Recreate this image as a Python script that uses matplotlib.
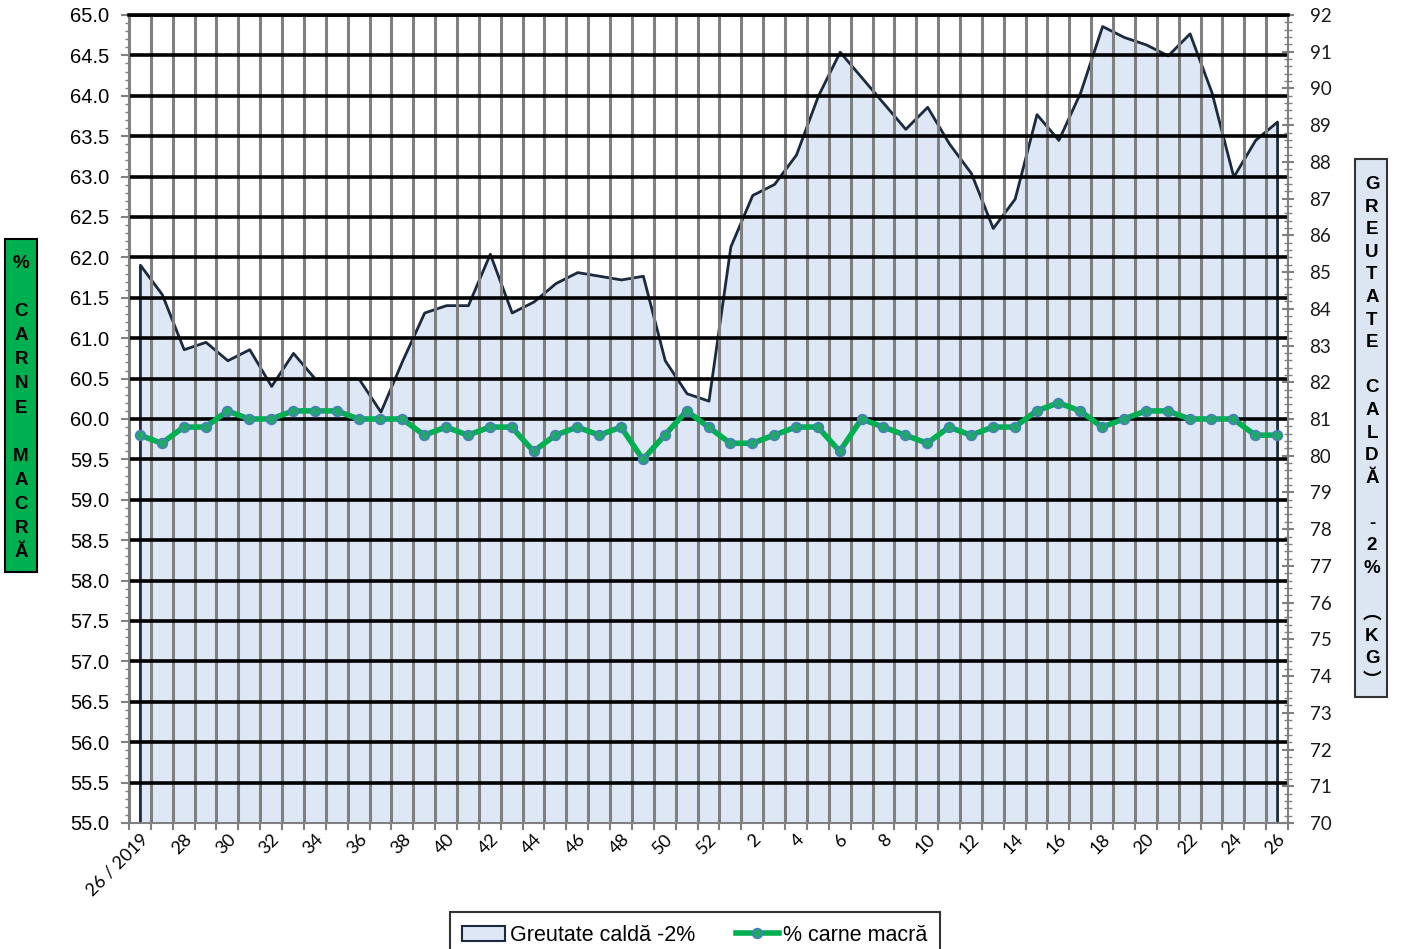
import numpy as np
import matplotlib
matplotlib.use('Agg')
import matplotlib.pyplot as plt
from matplotlib.patches import Rectangle, Patch
from matplotlib.lines import Line2D
from matplotlib.ticker import MultipleLocator

# weeks 26/2019 ... 52, then 1 ... 26 (2020)
weeks = list(range(26, 53)) + list(range(1, 27))

# greutate calda -2% (kg), right axis
greutate_calda = [85.2, 84.4, 82.9, 83.1, 82.6, 82.9, 81.9, 82.8, 82.1, 82.1,
                  82.1, 81.2, 82.6, 83.9, 84.1, 84.1, 85.5, 83.9, 84.2, 84.7,
                  85.0, 84.9, 84.8, 84.9, 82.6, 81.7, 81.5,
                  85.7, 87.1, 87.4, 88.2, 89.8, 91.0, 90.3, 89.6, 88.9, 89.5,
                  88.5, 87.7, 86.2, 87.0, 89.3, 88.6, 89.9, 91.7, 91.4, 91.2,
                  90.9, 91.5, 89.9, 87.6, 88.6, 89.1]

# % carne macra, left axis
carne_macra = [59.8, 59.7, 59.9, 59.9, 60.1, 60.0, 60.0, 60.1, 60.1, 60.1,
               60.0, 60.0, 60.0, 59.8, 59.9, 59.8, 59.9, 59.9, 59.6, 59.8,
               59.9, 59.8, 59.9, 59.5, 59.8, 60.1, 59.9,
               59.7, 59.7, 59.8, 59.9, 59.9, 59.6, 60.0, 59.9, 59.8, 59.7,
               59.9, 59.8, 59.9, 59.9, 60.1, 60.2, 60.1, 59.9, 60.0, 60.1,
               60.1, 60.0, 60.0, 60.0, 59.8, 59.8]

tick_labels = ['26 / 2019'] + [str(w) for w in weeks[2::2]]

AREA_FILL = '#DEE7F5'
AREA_EDGE = '#1B2A3E'
GREEN = '#00B050'
GREY = '#808080'

plt.rcParams['font.family'] = ['Liberation Sans', 'DejaVu Sans']


def draw_chart():
    x = np.arange(len(weeks))
    W, H = 1402, 949
    fig = plt.figure(figsize=(W / 100, H / 100), dpi=100)
    ax = fig.add_axes([129 / W, 1 - 823 / H, (1288 - 129) / W, (823 - 15) / H])
    ax2 = ax.twinx()
    # green line + grid above the area
    ax.set_zorder(ax2.get_zorder() + 1)
    ax.patch.set_visible(False)

    # area (right axis)
    ax2.fill_between(x, 70, greutate_calda, facecolor=AREA_FILL,
                     edgecolor=AREA_EDGE, linewidth=2)
    ax2.set_ylim(70, 92)
    ax2.set_yticks(range(70, 93))
    ax2.yaxis.set_minor_locator(MultipleLocator(0.2))
    ax2.tick_params(axis='y', which='major', direction='inout', length=9,
                    width=1.5, color=GREY, pad=11, labelsize=13.5,
                    labelcolor='#1a1a1a')
    ax2.tick_params(axis='y', which='minor', direction='inout', length=6,
                    width=1, color=GREY)
    for lbl in ax2.get_yticklabels():
        lbl.set_fontfamily('Lato')
    for s in ax2.spines.values():
        s.set_visible(False)

    # % carne macra (left axis)
    ax.plot(x, carne_macra, color=GREEN, lw=4, marker='o', ms=7,
            mfc='#1FA86A', mec='#4A7EBB', mew=1.2, zorder=5)
    ax.set_ylim(55, 65)
    ax.set_xlim(-0.5, len(weeks) - 0.5)
    yt = np.arange(55, 65.01, 0.5)
    ax.set_yticks(yt)
    ax.set_yticklabels([f'{v:.1f}' for v in yt])
    ax.yaxis.set_minor_locator(MultipleLocator(0.1))
    ax.tick_params(axis='y', which='major', length=6, width=1.5, color=GREY,
                   pad=8, labelsize=14.5)
    ax.tick_params(axis='y', which='minor', length=3, width=1, color=GREY)

    ax.set_xticks(x[::2])
    ax.set_xticklabels(tick_labels, rotation=45, ha='right',
                       rotation_mode='anchor', fontfamily='Lato', fontsize=13)
    ax.set_xticks(np.arange(-0.5, len(weeks), 1), minor=True)
    ax.tick_params(axis='x', which='major', length=0, pad=6)
    ax.tick_params(axis='x', which='minor', length=5, width=1.5, color=GREY)

    ax.grid(axis='y', which='major', color='black', lw=2.6)
    ax.grid(axis='x', which='minor', color=GREY, lw=2.2)
    ax.get_ygridlines()[0].set_visible(False)

    for side in ['left', 'right', 'bottom']:
        ax.spines[side].set_color(GREY)
        ax.spines[side].set_linewidth(1.5)
    ax.spines['top'].set_color('black')
    ax.spines['top'].set_linewidth(2.6)

    # axis title boxes
    fig.add_artist(Rectangle((5 / W, 1 - 572 / H), 32 / W, 333 / H,
                             transform=fig.transFigure, facecolor=GREEN,
                             edgecolor='black', lw=1.5))
    fig.text(21 / W, 1 - 408 / H, '\n'.join('% CARNE MACRĂ'),
             ha='center', va='center', fontsize=13.5, fontweight='bold',
             linespacing=1.55)
    fig.add_artist(Rectangle((1355 / W, 1 - 697 / H), 32 / W, 538 / H,
                             transform=fig.transFigure, facecolor='#DCE6F2',
                             edgecolor='#333333', lw=1.5))
    fig.text(1372 / W, 1 - 433 / H, '\n'.join('GREUTATE CALDĂ -2% ︵KG︶'),
             ha='center', va='center', fontsize=13.5, fontweight='bold',
             linespacing=1.43, family=['Liberation Sans', 'Noto Sans CJK SC'])

    handles = [Patch(facecolor=AREA_FILL, edgecolor=AREA_EDGE, lw=1.5,
                     label='Greutate caldă -2%'),
               Line2D([], [], color=GREEN, lw=4, marker='o', ms=7,
                      mfc='#1FA86A', mec='#4A7EBB', mew=1.2,
                      label='% carne macră')]
    leg = fig.legend(handles=handles, loc='upper center', ncol=2,
                     bbox_to_anchor=(695 / W, 1 - 912 / H), frameon=True,
                     fancybox=False, edgecolor='black', fontsize=15.5,
                     handlelength=2.0, columnspacing=1.9, handletextpad=0.2,
                     borderpad=0.6, borderaxespad=0)
    leg.get_frame().set_linewidth(1.5)

    fig.savefig('out.png', dpi=100)


if __name__ == "__main__":
    draw_chart()
